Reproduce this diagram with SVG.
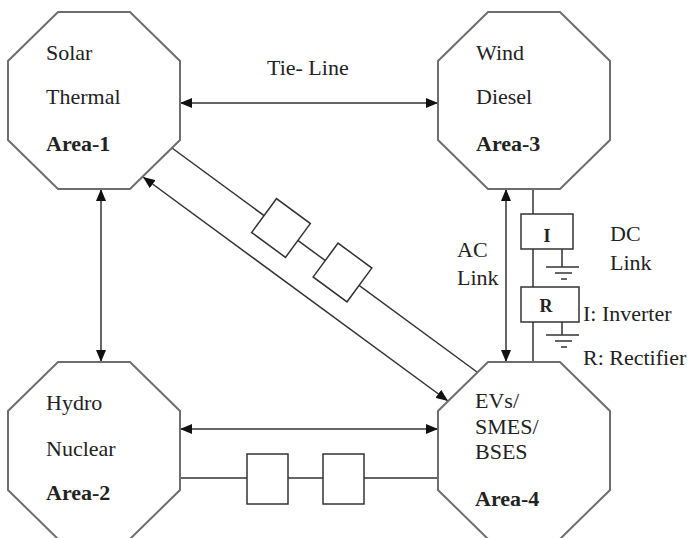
<svg xmlns="http://www.w3.org/2000/svg" width="690" height="538" viewBox="0 0 690 538">
<defs>
<marker id="ah" markerUnits="userSpaceOnUse" markerWidth="12" markerHeight="10" refX="12" refY="5" orient="auto-start-reverse" viewBox="0 0 12 10">
<path d="M0,0 L12,5 L0,10 z" fill="#111"/>
</marker>
</defs>
<style>
.oct{fill:#fff;stroke:#6e6e6e;stroke-width:2}
.ln{fill:none;stroke:#333;stroke-width:1.5}
.arr{fill:none;stroke:#333;stroke-width:1.5;marker-start:url(#ah);marker-end:url(#ah)}
.box{fill:#fff;stroke:#333;stroke-width:1.5}
.t{font-family:"Liberation Serif","Times New Roman",serif;font-size:22px;fill:#222}
.b{font-weight:bold}
.s{font-size:18px}
</style>
<rect width="690" height="538" fill="#fff"/>
<g id="connectors">
<line class="arr" x1="180" y1="103" x2="438" y2="103"/>
<line class="arr" x1="101" y1="189" x2="101" y2="362"/>
<line class="arr" x1="180" y1="429" x2="438" y2="429"/>
<line class="arr" x1="143" y1="177" x2="448" y2="401"/>
<line class="ln" x1="172" y1="148" x2="477" y2="372"/>
<g transform="translate(281,228) rotate(36.3)"><rect class="box" x="-21" y="-21" width="42" height="42"/></g>
<g transform="translate(342.5,272.5) rotate(36.3)"><rect class="box" x="-21" y="-21" width="42" height="42"/></g>
<line class="ln" x1="180" y1="478" x2="438" y2="478"/>
<rect class="box" x="247" y="454" width="41" height="50"/>
<rect class="box" x="323" y="454" width="41" height="50"/>
<line class="arr" x1="506" y1="189" x2="506" y2="362"/>
<line class="ln" x1="533" y1="189" x2="533" y2="362"/>
<rect class="box" x="521" y="214" width="52" height="35"/>
<rect class="box" x="521" y="287" width="58" height="35"/>
<path class="ln" d="M562,249 V267 M546,267 H579 M555,273 H572 M561,279 H567"/>
<path class="ln" d="M562,322 V335 M546,335 H579 M555,341 H572 M561,347 H567"/>
<text class="t b s" x="547" y="242" text-anchor="middle">I</text>
<text class="t b s" x="546" y="312" text-anchor="middle">R</text>
<text class="t" x="267" y="75">Tie- Line</text>
<text class="t" x="457" y="257">AC</text>
<text class="t" x="457" y="285">Link</text>
<text class="t" x="610" y="241">DC</text>
<text class="t" x="610" y="270">Link</text>
<text class="t" x="583" y="321">I: Inverter</text>
<text class="t" x="583" y="365">R: Rectifier</text>
</g>
<g id="area1">
<polygon class="oct" points="58,12 130,12 180,61 180,140 130,189 58,189 8,140 8,61"/>
<text class="t" x="46" y="60">Solar</text>
<text class="t" x="46" y="104">Thermal</text>
<text class="t b" x="46" y="151">Area-1</text>
</g>
<g id="area3">
<polygon class="oct" points="488,12 560,12 610,61 610,140 560,189 488,189 438,140 438,61"/>
<text class="t" x="476" y="60">Wind</text>
<text class="t" x="476" y="104">Diesel</text>
<text class="t b" x="476" y="151">Area-3</text>
</g>
<g id="area2">
<polygon class="oct" points="58,362 130,362 180,411 180,490 130,539 58,539 8,490 8,411"/>
<text class="t" x="46" y="410">Hydro</text>
<text class="t" x="46" y="456">Nuclear</text>
<text class="t b" x="46" y="500">Area-2</text>
</g>
<g id="area4">
<polygon class="oct" points="488,362 560,362 610,411 610,490 560,539 488,539 438,490 438,411"/>
<text class="t" x="475" y="408">EVs/</text>
<text class="t" x="475" y="434">SMES/</text>
<text class="t" x="475" y="459">BSES</text>
<text class="t b" x="475" y="506">Area-4</text>
</g>
</svg>
